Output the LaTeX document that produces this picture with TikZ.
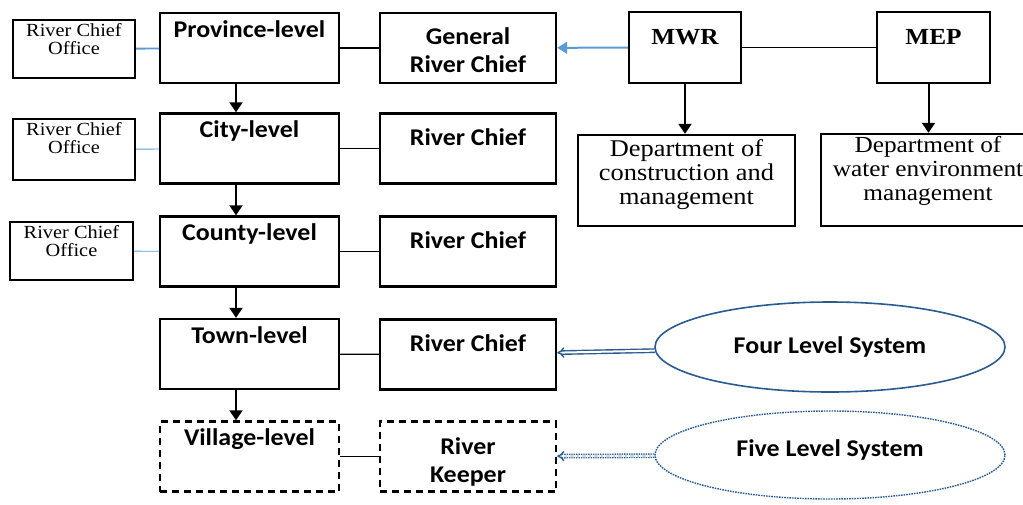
\documentclass[tikz,border=0pt]{standalone}
\usepackage{fontspec}
\setmainfont{Liberation Serif}[FakeStretch=1.1]
\newfontfamily\calib{Carlito}[FakeStretch=1.08]
\usetikzlibrary{shapes.geometric,arrows.meta}
\definecolor{lblue}{HTML}{5B9BD5}
\definecolor{dblue}{HTML}{2A5A92}
\tikzset{
  box/.style={draw, line width=2.4pt, inner sep=0pt, align=center},
  lvl/.style={box, minimum width=179pt, minimum height=70pt},
  chief/.style={box, minimum width=176pt, minimum height=70pt, font=\calib\bfseries\fontsize{24}{28}\selectfont},
  rco/.style={box, minimum width=122pt, minimum height=58pt},
  toplab/.style={font=\calib\bfseries\fontsize{24}{28}\selectfont, anchor=north},
  rcolab/.style={font=\fontsize{18.5}{18}\selectfont, anchor=north, align=center},
  dept/.style={box, font=\fontsize{24}{24}\selectfont},
  arr/.style={line width=2pt, -{Triangle[length=10pt,width=13pt]}},
  lnk/.style={line width=1.2pt},
  blk/.style={lblue, line width=0.9pt},
  sys/.style={ellipse, draw=dblue, line width=1.6pt, minimum width=350pt, minimum height=90pt, font=\calib\bfseries\fontsize{24}{28}\selectfont},
  dsh/.style={dash pattern=on 7pt off 5pt},
  dbl/.style={dblue, double, double distance=2pt, line width=1.4pt, -{Implies}},
}
\begin{document}
\begin{tikzpicture}[x=1pt,y=-1pt]
\useasboundingbox (0,0) rectangle (1023,504);
% left column offices
\node[rco, label={[rcolab, yshift=-1pt]north:River Chief\\Office}] (rco1) at (74,49) {};
\node[rco, minimum height=61pt, label={[rcolab, yshift=-1pt]north:River Chief\\Office}] (rco2) at (74,149.5) {};
\node[rco, minimum width=123pt, label={[rcolab, yshift=-1pt]north:River Chief\\Office}] (rco3) at (71.5,251) {};
% levels
\node[lvl, label={[toplab, yshift=-5pt]north:Province-level}] (prov) at (249.5,48) {};
\node[lvl, label={[toplab, yshift=-5pt]north:City-level}] (city) at (249.5,148.5) {};
\node[lvl, label={[toplab, yshift=-5pt]north:County-level}] (county) at (249.5,251.5) {};
\node[lvl, label={[toplab, yshift=-5pt]north:Town-level}] (town) at (249.5,354) {};
\node[lvl, dsh, label={[toplab, yshift=-5pt]north:Village-level}] (village) at (249.5,456.5) {};
% chiefs
\node[chief, label={[toplab, align=center, anchor=center, yshift=-2pt]center:General\\River Chief}] (grc) at (468,48) {};
\node[chief, label={[toplab, yshift=-13pt]north:River Chief}] (rc2) at (468,148.5) {};
\node[chief, label={[toplab, yshift=-13pt]north:River Chief}] (rc3) at (468,251.5) {};
\node[chief, label={[toplab, yshift=-13pt]north:River Chief}] (rc4) at (468,354.5) {};
\node[chief, dsh, label={[toplab, align=center, anchor=center, yshift=-5pt]center:River\\Keeper}] (keeper) at (468,456.5) {};
% ministries
\node[box, minimum width=112pt, minimum height=71pt, label={[anchor=north, yshift=-15pt, font=\bfseries\fontsize{23}{24}\selectfont]north:MWR}] (mwr) at (685,47.5) {};
\node[box, minimum width=113pt, minimum height=71pt, label={[anchor=north, yshift=-15pt, font=\bfseries\fontsize{23}{24}\selectfont]north:MEP}] (mep) at (933.5,47.5) {};
\node[dept, minimum width=217pt, minimum height=91pt, text depth=17pt] (dcm) at (686.5,180.5) {Department of\\construction and\\management};
\node[box, minimum width=208pt, minimum height=92pt, label={[font=\fontsize{23}{24}\selectfont, align=center, anchor=center, xshift=3pt, yshift=9pt]center:Department of\\water environment\\management}] (dwe) at (925,180) {};
% systems
\node[sys] (four) at (830,347) {Four Level System};
\node[sys, densely dotted, line width=1.4pt, minimum height=88pt, label={[font=\calib\bfseries\fontsize{24}{28}\selectfont, anchor=center, yshift=5pt]center:Five Level System}] (five) at (830,455) {};
% connectors
\draw[blk, line width=1.8pt] (rco1) -- (prov);
\draw[blk] (rco2) -- (city);
\draw[blk] (rco3) -- (county);
\draw[lnk] (prov) -- (grc);
\draw[lnk] (city) -- (rc2);
\draw[lnk] (county) -- (rc3);
\draw[lnk] (town) -- (rc4);
\draw[lnk, line width=1.6pt] (village) -- (keeper);
\draw[lnk] (mwr) -- (mep);
\draw[lblue, line width=2pt, -{Triangle[length=10pt,width=12pt]}] (mwr) -- (grc);
\draw[arr] ([xshift=-13.5pt]prov.south) -- ([xshift=-13.5pt]city.north);
\draw[arr] ([xshift=-13.5pt]city.south) -- ([xshift=-13.5pt]county.north);
\draw[arr] ([xshift=-13.5pt]county.south) -- ([xshift=-13.5pt]town.north);
\draw[arr] ([xshift=-13.5pt]town.south) -- ([xshift=-13.5pt]village.north);
\draw[arr] (mwr.south) -- (mwr.south |- dcm.north);
\draw[arr] ([xshift=-5pt]mep.south) -- ([xshift=-5pt]mep.south |- dwe.north);
\draw[dbl] (four) -- (rc4);
\draw[dbl, densely dotted] (five) -- (keeper);
\end{tikzpicture}
\end{document}
